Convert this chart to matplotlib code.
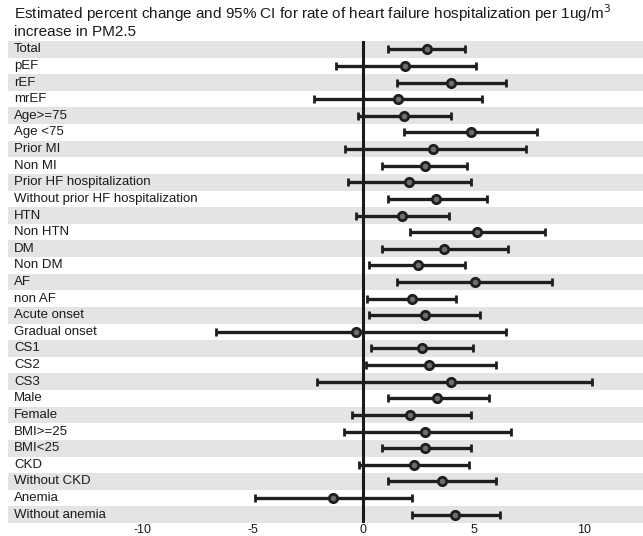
import matplotlib
matplotlib.use("Agg")
import matplotlib.pyplot as plt
from matplotlib import font_manager
import matplotlib.transforms as mtransforms

names = {f.name for f in font_manager.fontManager.ttflist}
fam = ['Liberation Sans Narrow', 'Liberation Sans', 'DejaVu Sans'] if 'Liberation Sans Narrow' in names else ['Liberation Sans', 'DejaVu Sans']
plt.rcParams['font.family'] = fam

labels = ["Total", "pEF", "rEF", "mrEF", "Age>=75", "Age <75", "Prior MI", "Non MI",
          "Prior HF hospitalization", "Without prior HF hospitalization", "HTN", "Non HTN",
          "DM", "Non DM", "AF", "non AF", "Acute onset", "Gradual onset", "CS1", "CS2",
          "CS3", "Male", "Female", "BMI>=25", "BMI<25", "CKD", "Without CKD", "Anemia",
          "Without anemia"]
estimate = [2.9, 1.9, 3.97, 1.58, 1.86, 4.88, 3.17, 2.79, 2.09, 3.3, 1.77, 5.16, 3.67, 2.48,
            5.07, 2.2, 2.79, -0.32, 2.66, 2.98, 3.97, 3.35, 2.14, 2.79, 2.79, 2.29, 3.58,
            -1.36, 4.15]
lower = [1.15, -1.2, 1.55, -2.23, -0.22, 1.86, -0.8, 0.88, -0.69, 1.15, -0.32, 2.14, 0.88,
         0.28, 1.55, 0.19, 0.28, -6.67, 0.37, 0.15, -2.09, 1.15, -0.5, -0.84, 0.88, -0.19,
         1.15, -4.88, 2.23]
upper = [4.6, 5.1, 6.46, 5.4, 4.0, 7.86, 7.36, 4.69, 4.9, 5.62, 3.91, 8.25, 6.57, 4.6, 8.57,
         4.19, 5.3, 6.46, 4.99, 6.0, 10.34, 5.68, 4.9, 6.7, 4.9, 4.79, 6.0, 2.23, 6.18]
xticks = [-10, -5, 0, 5, 10]

W, H = 643, 536
fig = plt.figure(figsize=(W / 100, H / 100), dpi=100)
ax_left, ax_right, ax_top, ax_bot = 8, 643, 41, 523
ax = fig.add_axes([ax_left / W, 1 - ax_bot / H, (ax_right - ax_left) / W, (ax_bot - ax_top) / H])

n = len(labels)
ys = list(range(n))
for i in ys:
    if i % 2 == 0:
        ax.axhspan(i - 0.5, i + 0.5, color='#e4e4e4', lw=0, zorder=0)

ax.axvline(0, color='#1a1a1a', lw=2.2, zorder=2)

xerr = [[e - l for e, l in zip(estimate, lower)], [u - e for e, u in zip(estimate, upper)]]
ax.errorbar(estimate, ys, xerr=xerr, fmt='o', color='#1e1e1e', ecolor='#1e1e1e',
            elinewidth=2.4, capsize=3, capthick=2.2, markersize=6,
            markerfacecolor='#6e6e6e', markeredgecolor='#1e1e1e', markeredgewidth=2, zorder=3)

trans = mtransforms.blended_transform_factory(ax.transAxes, ax.transData)
for i, lab in enumerate(labels):
    ax.text(6 / (ax_right - ax_left), i, lab, transform=trans, ha='left', va='center',
            fontsize=9.5, color='#1a1a1a')

zero_px, unit_px = 363, 22.1
ax.set_xlim((ax_left - zero_px) / unit_px, (ax_right - zero_px) / unit_px)
ax.set_ylim(n - 0.5, -0.5)
ax.set_yticks([])
ax.set_xticks(xticks)
ax.set_xticklabels([str(t) for t in xticks])
ax.tick_params(axis='x', length=0, pad=0.5, labelsize=9, labelcolor='#1a1a1a')
for s in ax.spines.values():
    s.set_visible(False)

fig.text(14 / W, 1 - 13 / H, "Estimated percent change and 95% CI for rate of heart failure hospitalization per 1ug/m$^3$",
         ha='left', va='center', fontsize=11, color='#1a1a1a')
fig.text(14 / W, 1 - 32 / H, "increase in PM2.5", ha='left', va='center', fontsize=11, color='#1a1a1a')

fig.savefig("out.png", dpi=100, facecolor='white')
